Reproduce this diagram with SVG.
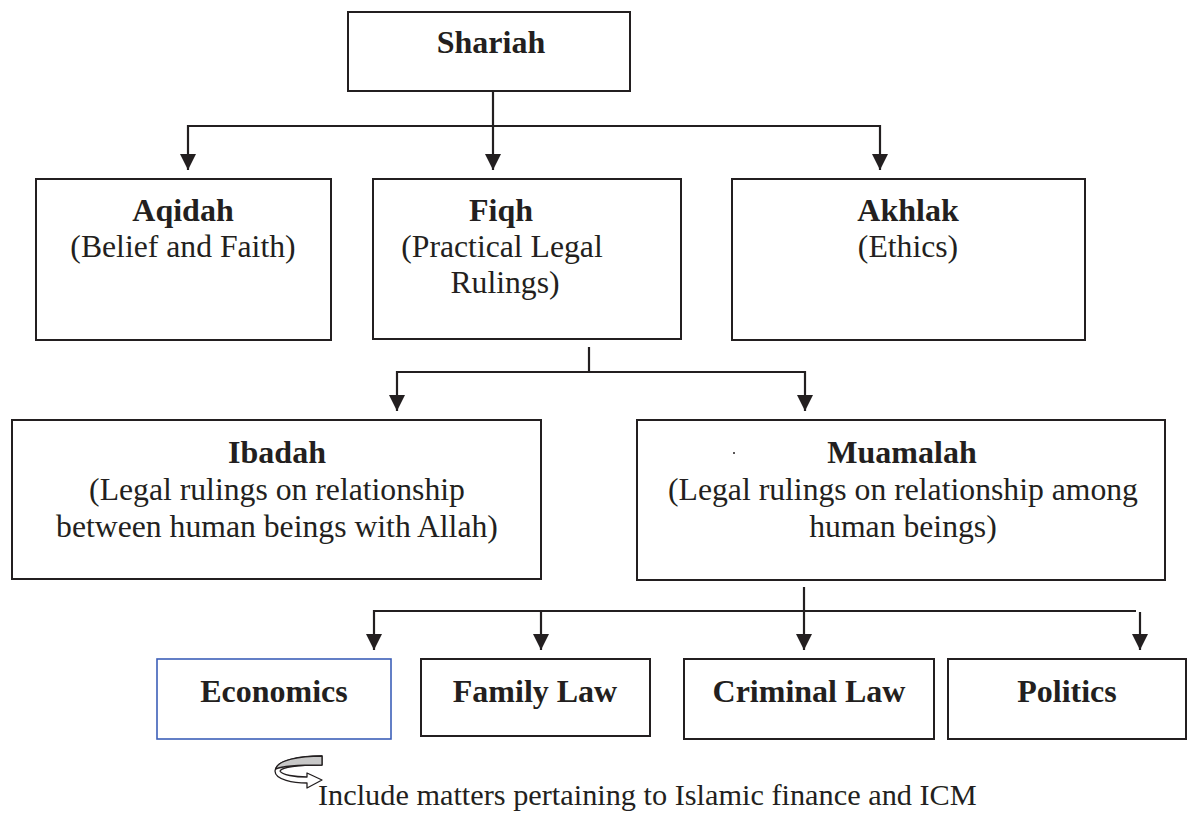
<svg xmlns="http://www.w3.org/2000/svg" width="1196" height="821" viewBox="0 0 1196 821">
  <defs>
    <style>
      .box { fill: #ffffff; stroke: #231f20; stroke-width: 2; }
      .box-blue { fill: #ffffff; stroke: #3d5fb8; stroke-width: 1.6; }
      .title { font-family: "Liberation Serif", "Times New Roman", serif; font-size: 32px; font-weight: bold; fill: #231f20; text-anchor: middle; }
      .sub { font-family: "Liberation Serif", "Times New Roman", serif; font-size: 31.7px; fill: #231f20; text-anchor: middle; }
      .note { font-family: "Liberation Serif", "Times New Roman", serif; font-size: 30.3px; fill: #231f20; }
      .link { fill: none; stroke: #231f20; stroke-width: 2.2; }
      .link-arrow { fill: none; stroke: #231f20; stroke-width: 2.2; marker-end: url(#head); }
    </style>
    <marker id="head" markerUnits="userSpaceOnUse" markerWidth="16" markerHeight="16" refX="16" refY="8" orient="auto">
      <path d="M0,0 L16,8 L0,16 Z" fill="#231f20"/>
    </marker>
  </defs>

  <rect width="1196" height="821" fill="#ffffff"/>

  <!-- connectors -->
  <g id="connectors">
    <!-- Shariah to first level -->
    <line class="link" x1="493" y1="83" x2="493" y2="126"/>
    <line class="link" x1="187" y1="126" x2="881" y2="126"/>
    <line class="link-arrow" x1="188" y1="125" x2="188" y2="170"/>
    <line class="link-arrow" x1="493" y1="126" x2="493" y2="170"/>
    <line class="link-arrow" x1="880" y1="125" x2="880" y2="170"/>
    <!-- Fiqh to second level -->
    <line class="link" x1="589" y1="347" x2="589" y2="372"/>
    <line class="link" x1="396" y1="372" x2="806" y2="372"/>
    <line class="link-arrow" x1="397" y1="371" x2="397" y2="411"/>
    <line class="link-arrow" x1="805" y1="371" x2="805" y2="411"/>
    <!-- Muamalah to third level -->
    <line class="link" x1="804" y1="564" x2="804" y2="572" stroke-width="1.6"/>
    <line class="link" x1="373" y1="611" x2="1136" y2="611"/>
    <line class="link-arrow" x1="374" y1="610" x2="374" y2="650"/>
    <line class="link-arrow" x1="541" y1="611" x2="541" y2="650"/>
    <line class="link-arrow" x1="804" y1="587" x2="804" y2="650"/>
    <line class="link-arrow" x1="1140" y1="612" x2="1140" y2="650"/>
  </g>

  <g id="shariah">
    <rect class="box" x="348" y="12" width="282" height="79"/>
    <text class="title" x="491" y="53">Shariah</text>
  </g>

  <g id="aqidah">
    <rect class="box" x="36" y="179" width="295" height="161"/>
    <text class="title" x="183" y="221">Aqidah</text>
    <text class="sub" x="183" y="257">(Belief and Faith)</text>
  </g>

  <g id="fiqh">
    <rect class="box" x="373" y="179" width="308" height="160"/>
    <text class="title" x="501" y="221">Fiqh</text>
    <text class="sub" x="502" y="257">(Practical Legal</text>
    <text class="sub" x="505" y="293">Rulings)</text>
  </g>

  <g id="akhlak">
    <rect class="box" x="732" y="179" width="353" height="161"/>
    <text class="title" x="908" y="221">Akhlak</text>
    <text class="sub" x="908" y="257">(Ethics)</text>
  </g>

  <g id="ibadah">
    <rect class="box" x="12" y="420" width="529" height="159"/>
    <text class="title" x="277" y="463">Ibadah</text>
    <text class="sub" x="277" y="500">(Legal rulings on relationship</text>
    <text class="sub" x="277" y="537">between human beings with Allah)</text>
  </g>

  <g id="muamalah">
    <rect class="box" x="637" y="420" width="528" height="160"/>
    <circle cx="734" cy="453" r="1" fill="#231f20"/>
    <text class="title" x="902" y="463">Muamalah</text>
    <text class="sub" x="903" y="500">(Legal rulings on relationship among</text>
    <text class="sub" x="903" y="537">human beings)</text>
  </g>

  <g id="economics">
    <rect class="box-blue" x="157" y="659" width="234" height="80"/>
    <text class="title" x="274" y="702">Economics</text>
  </g>

  <g id="family-law">
    <rect class="box" x="421" y="659" width="229" height="77"/>
    <text class="title" x="535" y="702">Family Law</text>
  </g>

  <g id="criminal-law">
    <rect class="box" x="684" y="659" width="250" height="80"/>
    <text class="title" x="809" y="702">Criminal Law</text>
  </g>

  <g id="politics">
    <rect class="box" x="948" y="659" width="238" height="80"/>
    <text class="title" x="1067" y="702">Politics</text>
  </g>

  <!-- curved ribbon arrow pointing to the note -->
  <g id="note">
    <path d="M322 756 C300 756 275 761 275 771 C275 780 294 783 307 783 L307 788 L322 780 L307 773 L307 777 C295 777 282 775 280 771 C283 766 300 765 322 765 Z"
          fill="#ffffff" stroke="#231f20" stroke-width="1.3" stroke-linejoin="round"/>
    <path d="M322 756 C300 756 277 760 276 769 C282 766 300 765 322 765 Z" fill="#c8c8c8" stroke="#231f20" stroke-width="1.3" stroke-linejoin="round"/>
    <text class="note" x="318" y="805">Include matters pertaining to Islamic finance and ICM</text>
  </g>
</svg>
